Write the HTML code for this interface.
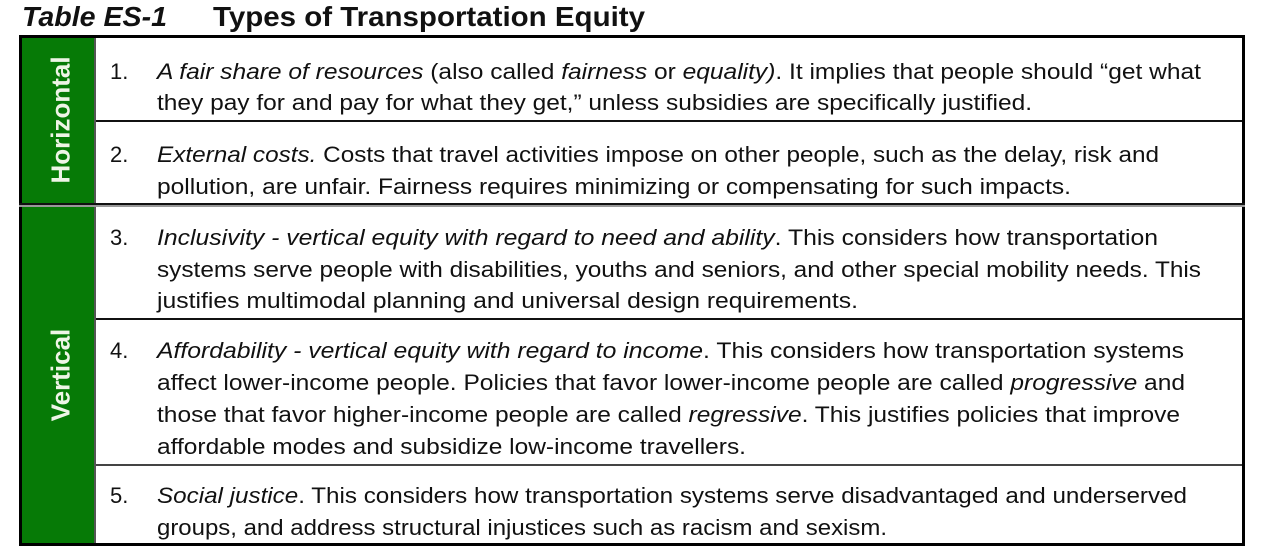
<!DOCTYPE html>
<html><head><meta charset="utf-8">
<style>
body{margin:0;width:1263px;height:552px;background:#fff;position:relative;overflow:hidden;font-family:"Liberation Sans",sans-serif;color:#111;}
.abs{position:absolute;}
.t{position:absolute;left:157px;font-size:22px;white-space:nowrap;transform-origin:0 50%;line-height:24px;}
.n{position:absolute;left:110px;font-size:22px;line-height:24px;}
.hl{position:absolute;left:19px;width:1226px;background:#111;}
.lab{position:absolute;color:#eef5e6;font-weight:bold;font-size:26px;white-space:nowrap;transform:translate(-50%,-50%) rotate(-90deg);left:61px;}
.ttl{position:absolute;top:1px;font-size:28px;font-weight:bold;white-space:nowrap;transform-origin:0 50%;line-height:32px;}
</style></head><body>
<div class="ttl" data-w="145" style="left:22px;font-style:italic;">Table ES-1</div>
<div class="ttl" data-w="432" style="left:213px;">Types of Transportation Equity</div>

<div class="abs" style="left:19px;top:35px;width:1220px;height:505px;border:3px solid #000;"></div>
<div class="abs" style="left:22px;top:38px;width:72px;height:166px;background:#067a06;"></div>
<div class="abs" style="left:22px;top:207px;width:72px;height:336px;background:#067a06;"></div>
<div class="abs" style="left:94px;top:38px;width:2px;height:505px;background:#555;"></div>
<div class="hl" style="left:96px;width:1146px;top:120px;height:2px;"></div>
<div class="hl" style="top:203px;height:2px;"></div>
<div class="hl" style="top:205px;height:2px;background:#999;"></div>
<div class="hl" style="left:96px;width:1146px;top:318px;height:2px;"></div>
<div class="hl" style="left:96px;width:1146px;top:464px;height:2px;background:#444;"></div>

<div class="lab" style="top:120px;">Horizontal</div>
<div class="lab" style="top:375px;">Vertical</div>

<div class="n" style="top:60px;">1.</div>
<div class="t" data-w="1044" style="top:60px;"><i>A fair share of resources</i> (also called <i>fairness</i> or <i>equality)</i>. It implies that people should “get what</div>
<div class="t" data-w="875" style="top:91px;">they pay for and pay for what they get,” unless subsidies are specifically justified.</div>

<div class="n" style="top:143px;">2.</div>
<div class="t" data-w="1002" style="top:143px;"><i>External costs.</i> Costs that travel activities impose on other people, such as the delay, risk and</div>
<div class="t" data-w="914" style="top:175px;">pollution, are unfair. Fairness requires minimizing or compensating for such impacts.</div>

<div class="n" style="top:226px;">3.</div>
<div class="t" data-w="1001" style="top:226px;"><i>Inclusivity - vertical equity with regard to need and ability</i>. This considers how transportation</div>
<div class="t" data-w="1044" style="top:258px;">systems serve people with disabilities, youths and seniors, and other special mobility needs. This</div>
<div class="t" data-w="701" style="top:289px;">justifies multimodal planning and universal design requirements.</div>

<div class="n" style="top:339px;">4.</div>
<div class="t" data-w="1027" style="top:339px;"><i>Affordability - vertical equity with regard to income</i>. This considers how transportation systems</div>
<div class="t" data-w="1028" style="top:371px;">affect lower-income people. Policies that favor lower-income people are called <i>progressive</i> and</div>
<div class="t" data-w="1023" style="top:403px;">those that favor higher-income people are called <i>regressive</i>. This justifies policies that improve</div>
<div class="t" data-w="589" style="top:435px;">affordable modes and subsidize low-income travellers.</div>

<div class="n" style="top:484px;">5.</div>
<div class="t" data-w="1030" style="top:484px;"><i>Social justice</i>. This considers how transportation systems serve disadvantaged and underserved</div>
<div class="t" data-w="730" style="top:516px;">groups, and address structural injustices such as racism and sexism.</div>

<script>
document.querySelectorAll('.t, .ttl').forEach(function(el){
  var w = el.getBoundingClientRect().width;
  var target = parseFloat(el.getAttribute('data-w'));
  if (w > 0) el.style.transform = 'scaleX(' + (target / w) + ')';
});
</script>
</body></html>
